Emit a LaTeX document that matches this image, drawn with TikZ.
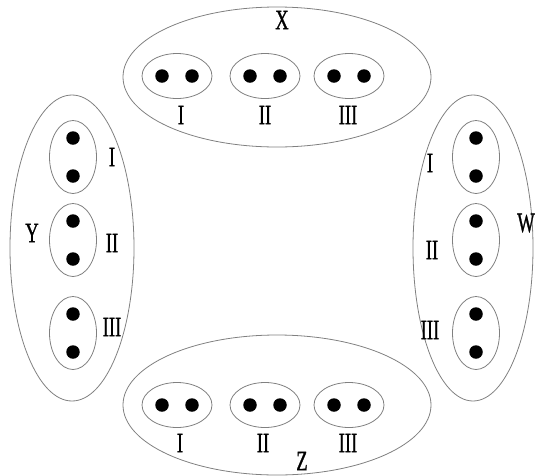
\documentclass[tikz,border=0pt]{standalone}
\usepackage{fontspec}
\setmainfont{Liberation Serif}
\newfontfamily\labfont[FakeBold=1.2]{Liberation Serif}
\usetikzlibrary{shapes.geometric}
\begin{document}
\begin{tikzpicture}[x=1pt,y=-1pt,
  ring/.style={draw=black!50, line width=0.8pt, ellipse, inner sep=0pt},
  dot/.style={circle, fill=black, inner sep=0pt, minimum size=13.5pt},
  lab/.style={inner sep=0pt, font=\labfont\fontsize{25}{25}\selectfont, xscale=0.74, yscale=1.12}]
\useasboundingbox (0,0) rectangle (536,475);

% outer sets
\node[ring, minimum width=308pt, minimum height=140pt] (X) at (277,77) {};
\node[ring, minimum width=308pt, minimum height=140pt] (Z) at (277,405) {};
\node[ring, minimum width=124pt, minimum height=306pt] (Y) at (72,248) {};
\node[ring, minimum width=120pt, minimum height=306pt] (W) at (473,248) {};

% horizontal pairs in X and Z
\foreach \s/\yy in {x/76, z/405} {
  \foreach \n/\cx in {1/177, 2/265, 3/349} {
    \node[ring, minimum width=70pt, minimum height=45pt] (\s\n) at (\cx,\yy) {};
    \node[dot] (\s\n a) at (\cx-15,\yy) {};
    \node[dot] (\s\n b) at (\cx+15,\yy) {};
  }
}

% vertical pairs in Y and W
\foreach \s/\xx in {y/73, w/476} {
  \foreach \n/\cy in {1/157, 2/240, 3/333} {
    \node[ring, minimum width=47pt, minimum height=73pt] (\s\n) at (\xx,\cy) {};
    \node[dot] (\s\n a) at (\xx,\cy-19) {};
    \node[dot] (\s\n b) at (\xx,\cy+19) {};
  }
}

% labels of X
\node[lab] (tX) at (282,20) {X};
\node[lab] (tx1) at (181,115) {I};
\node[lab] (tx2) at (265,115) {II};
\node[lab] (tx3) at (348,115) {III};

% labels of Z
\node[lab] (tZ) at (302,461) {Z};
\node[lab] (tz1) at (180,443) {I};
\node[lab] (tz2) at (263,443) {II};
\node[lab] (tz3) at (348,443) {III};

% labels of Y
\node[lab] (tY) at (32,233) {Y};
\node[lab] (ty1) at (112,157) {I};
\node[lab] (ty2) at (112,243) {II};
\node[lab] (ty3) at (112,327) {III};

% labels of W
\node[lab] (tW) at (526,223) {W};
\node[lab] (tw1) at (430,163) {I};
\node[lab] (tw2) at (432,250) {II};
\node[lab] (tw3) at (430,330) {III};
\end{tikzpicture}
\end{document}
